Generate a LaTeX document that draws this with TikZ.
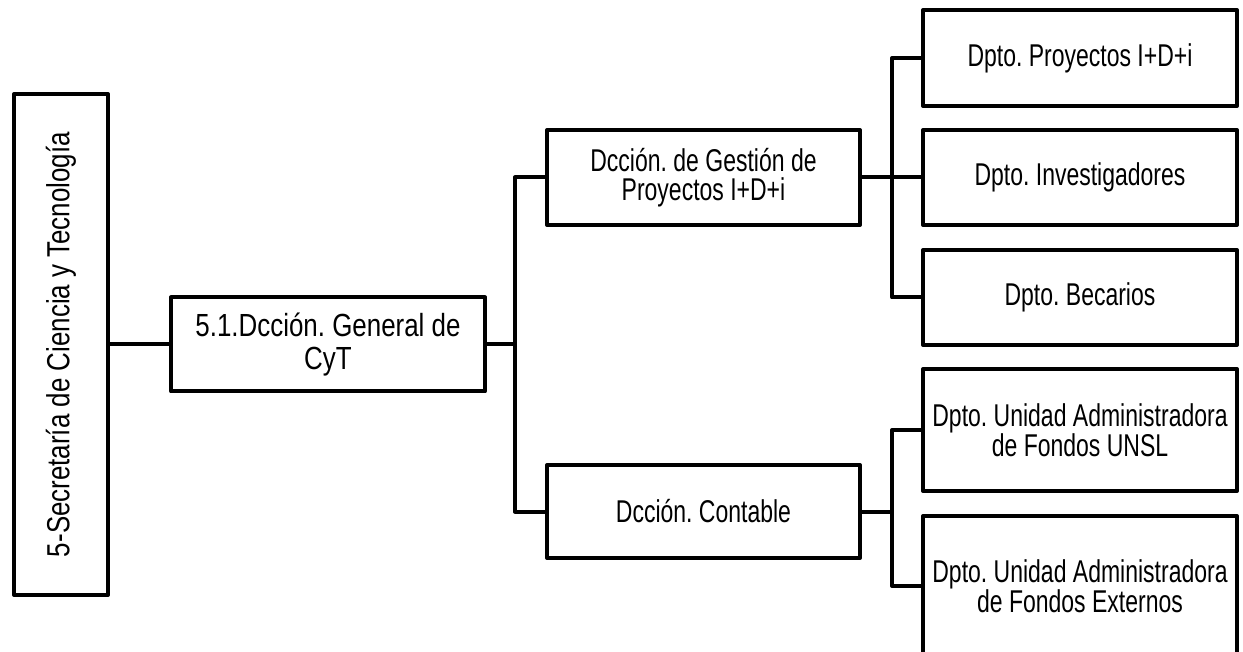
\documentclass[tikz,border=0pt]{standalone}
\usepackage{fontspec}
\setmainfont{Liberation Sans}
\newfontfamily\narrowfont{Liberation Sans}[FakeStretch=0.73]
\newfontfamily\widefont{Liberation Sans}[FakeStretch=0.81]
\frenchspacing

\begin{document}
\begin{tikzpicture}[x=1pt, y=-1pt, line width=4pt, line join=round, node distance=376.5pt,
	unit/.style={draw, align=center, inner sep=0pt, minimum width=314pt, minimum height=95pt, font=\narrowfont\fontsize{31.5}{28.5}\selectfont},
	head/.style={unit, font=\widefont\fontsize{32}{33}\selectfont}]
	\clip (0,0) rectangle (1243,652);
	\node (secre) [head, rotate=90, minimum width=501pt, minimum height=94pt] at (61,344.5) {5-Secretaría de Ciencia y Tecnología};
	\node (gral) [head, right of=secre, node distance=267pt, minimum height=94pt] {5.1.Dcción. General de\\CyT};
	\node (gestion) [unit, right of=gral, node distance=375.5pt, yshift=167pt, minimum width=313pt] {Dcción. de Gestión de\\Proyectos I+D+i};
	\node (contable) [unit, right of=gral, node distance=375.5pt, yshift=-167pt, minimum width=313pt, minimum height=93pt] {Dcción. Contable};
	\node (inv) [unit, right of=gestion] {Dpto. Investigadores};
	\node (proy) [unit, above of=inv, node distance=119.5pt, minimum height=96pt] {Dpto. Proyectos I+D+i};
	\node (bec) [unit, below of=inv, node distance=120pt] {Dpto. Becarios};
	\node (unsl) [unit, right of=contable, yshift=81.5pt, minimum height=122pt] {Dpto. Unidad Administradora\\de Fondos UNSL};
	\node (ext) [unit, right of=contable, yshift=-74.5pt, minimum height=140pt] {Dpto. Unidad Administradora\\de Fondos Externos};
	\coordinate (busA) at (515,0);
	\coordinate (busB) at (892,0);
	\draw (secre) -- (gral);
	\draw (gral) -- (gral -| busA);
	\draw (gestion) -- (gestion -| busA) |- (contable);
	\draw (gestion) -- (inv);
	\draw (proy) -- (proy -| busB) |- (bec);
	\draw (contable) -- (contable -| busB);
	\draw (unsl) -- (unsl -| busB) |- (ext);
\end{tikzpicture}
\end{document}
